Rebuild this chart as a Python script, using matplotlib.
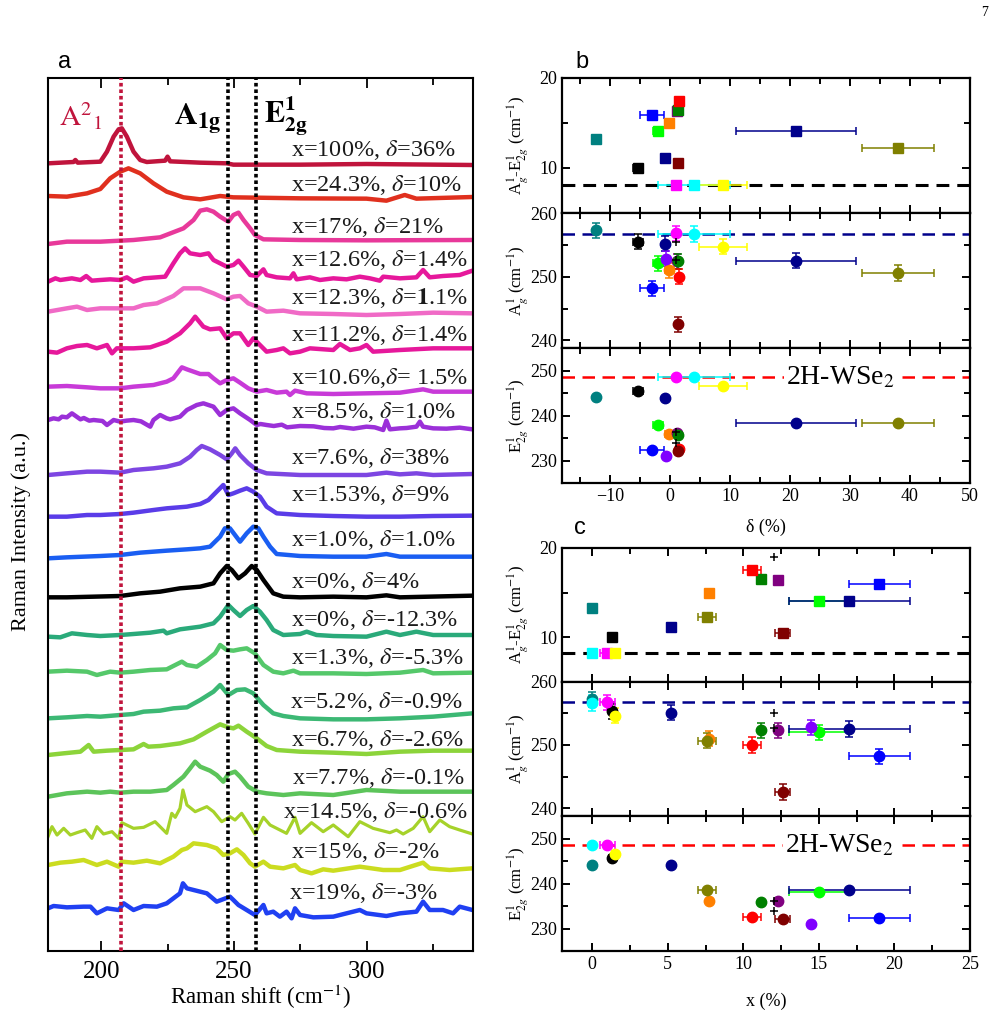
import matplotlib
matplotlib.use("Agg")
import matplotlib.pyplot as plt
from matplotlib.ticker import MultipleLocator

plt.rcParams['font.family'] = ['Liberation Serif', 'DejaVu Serif']
plt.rcParams['mathtext.fontset'] = 'stix'

# ---------------- Panel a : Raman spectra ----------------
spec_labels = [
    r"x=100%, $\delta$=36%", r"x=24.3%, $\delta$=10%", r"x=17%, $\delta$=21%",
    r"x=12.6%, $\delta$=1.4%", r"x=12.3%, $\delta$=$\mathbf{1}$.1%", r"x=11.2%, $\delta$=1.4%",
    r"x=10.6%,$\delta$= 1.5%", r"x=8.5%, $\delta$=1.0%", r"x=7.6%, $\delta$=38%",
    r"x=1.53%, $\delta$=9%", r"x=1.0%, $\delta$=1.0%", r"x=0%, $\delta$=4%",
    r"x=0%, $\delta$=-12.3%", r"x=1.3%, $\delta$=-5.3%", r"x=5.2%, $\delta$=-0.9%",
    r"x=6.7%, $\delta$=-2.6%", r"x=7.7%, $\delta$=-0.1%", r"x=14.5%, $\delta$=-0.6%",
    r"x=15%, $\delta$=-2%", r"x=19%, $\delta$=-3%",
]
spec_colors = ['#c0143c', '#e0301e', '#e8399a', '#e6189b', '#f06ac6', '#e6189b',
               '#c83ad8', '#9b30d8', '#7d46e2', '#5a3ce8', '#1a5ef2', '#000000',
               '#2aaa7a', '#55c86a', '#3cb874', '#8cd43a', '#5cc45a', '#a6d22a',
               '#cbdc20', '#2040f2']
spec_offsets = [2358, 2262, 2133, 2018, 1913, 1808, 1678, 1565, 1431, 1306,
                1183, 1066, 948, 835, 713, 601, 478, 353, 248, 123]
label_y = [2403, 2298, 2173, 2073, 1958, 1848, 1718, 1618, 1478, 1368,
           1233, 1108, 993, 878, 748, 633, 518, 416, 298, 173]
label_x = [271.4, 271.4, 271.4, 271.4, 271.4, 271.4, 271.4, 271.4, 271.4, 271.4,
           271.4, 271.4, 271.4, 271.4, 271.0, 271.4, 271.8, 268.3, 271.4, 270.7]

spec_shifts = [
    [180, 189.6, 190.3, 191.2, 199.7, 202.2, 204.7, 206.6, 207.8, 209.7, 212.2, 214.7, 217.2, 224.1, 225.0, 226.0, 237.3, 247.3, 249.8, 274.9, 299.9, 339.8],
    [180, 187.1, 194.7, 199.7, 203.4, 207.2, 210.3, 214.7, 219.7, 224.7, 231.0, 237.3, 244.8, 249.8, 274.9, 299.9, 307.4, 314.3, 318.7, 339.8],
    [180, 187.1, 199.7, 212.2, 222.2, 231.0, 234.8, 237.3, 239.8, 242.3, 244.8, 247.9, 249.8, 251.7, 253.6, 256.1, 257.9, 261.1, 274.9, 299.9, 339.8],
    [180, 182.8, 184.6, 189.0, 192.2, 194.4, 196.5, 199.7, 203.4, 207.2, 209.7, 212.2, 216.0, 221.0, 224.1, 227.2, 229.7, 231.6, 233.5, 237.3, 240.4, 242.3, 247.3, 249.8, 251.7, 253.6, 256.1, 258.6, 261.1, 262.3, 266.1, 271.1, 272.4, 273.6, 278.6, 282.4, 287.4, 292.4, 297.4, 301.2, 304.9, 306.2, 312.5, 318.7, 321.2, 323.7, 328.7, 335.0, 339.8],
    [180, 187.1, 190.9, 194.7, 199.7, 207.2, 212.2, 216.0, 221.0, 227.2, 231.0, 237.3, 242.3, 247.3, 249.8, 252.3, 255.4, 258.6, 262.3, 268.6, 274.9, 287.4, 299.9, 312.5, 325.0, 339.8],
    [180, 183.4, 187.1, 190.9, 194.7, 198.4, 202.2, 204.1, 205.9, 212.2, 218.5, 224.7, 229.7, 233.5, 235.4, 238.5, 241.0, 244.8, 247.3, 249.8, 252.3, 255.4, 257.3, 259.8, 262.3, 266.1, 268.6, 271.1, 274.9, 278.6, 287.4, 289.9, 293.7, 297.4, 299.9, 302.4, 312.5, 325.0, 339.8],
    [180, 187.1, 194.7, 199.7, 207.2, 212.2, 219.7, 224.7, 227.2, 230.4, 232.3, 237.3, 240.4, 242.3, 244.8, 247.3, 249.8, 252.3, 255.4, 258.6, 262.3, 266.1, 269.8, 271.1, 273.0, 277.4, 287.4, 299.9, 312.5, 321.2, 325.0, 339.8],
    [180, 182.1, 184.0, 185.3, 187.1, 189.0, 192.2, 193.5, 195.5, 197.2, 200.5, 202.2, 204.7, 207.2, 209.5, 212.2, 215.0, 218.5, 219.7, 222.2, 224.7, 226.0, 229.7, 232.3, 236.0, 238.5, 242.3, 244.8, 247.3, 249.8, 252.3, 256.1, 258.6, 260.0, 262.3, 265.0, 268.0, 270.0, 274.9, 280.0, 284.0, 287.4, 290.0, 295.0, 299.9, 303.0, 306.2, 307.4, 308.7, 312.5, 315.0, 318.7, 320.0, 321.2, 325.0, 330.0, 335.0, 339.8],
    [180, 187.1, 194.7, 199.7, 207.2, 212.2, 219.7, 224.7, 229.7, 233.5, 236.0, 237.9, 241.0, 244.8, 247.3, 249.2, 250.5, 252.3, 255.4, 258.6, 262.3, 274.9, 287.4, 299.9, 307.4, 312.5, 318.7, 325.0, 339.8],
    [180, 187.1, 194.7, 199.7, 207.2, 212.2, 219.7, 224.7, 232.3, 237.3, 240.4, 243.5, 246.0, 247.9, 249.8, 252.3, 254.8, 257.3, 259.8, 262.3, 266.1, 274.9, 287.4, 299.9, 312.5, 325.0, 339.8],
    [180, 187.1, 199.7, 207.2, 214.7, 224.7, 232.3, 237.3, 241.0, 244.8, 246.6, 248.5, 250.4, 252.3, 254.8, 257.3, 259.2, 261.1, 263.6, 266.1, 274.9, 287.4, 299.9, 307.4, 312.5, 339.8],
    [180, 187.1, 197.2, 207.2, 214.7, 222.2, 229.7, 237.3, 242.3, 244.8, 247.3, 249.2, 251.7, 254.2, 256.7, 258.6, 261.1, 264.8, 268.6, 274.9, 287.4, 299.9, 307.4, 312.5, 339.8],
    [180, 184.6, 189.0, 194.7, 199.7, 207.2, 212.2, 218.5, 223.5, 224.7, 229.7, 237.3, 242.3, 244.8, 247.9, 249.8, 252.3, 254.8, 257.3, 259.8, 262.3, 264.8, 268.6, 274.9, 277.4, 281.1, 287.4, 299.9, 307.4, 312.5, 318.7, 325.0, 339.8],
    [180, 187.1, 194.7, 198.4, 203.4, 207.2, 212.2, 218.5, 224.7, 230.4, 232.3, 236.0, 239.8, 242.9, 244.8, 247.3, 249.8, 252.3, 254.8, 257.9, 261.1, 264.8, 268.6, 272.4, 274.9, 287.4, 299.9, 312.5, 321.2, 325.0, 339.8],
    [180, 187.1, 194.7, 199.7, 207.2, 212.2, 216.0, 222.2, 227.2, 232.3, 237.3, 242.3, 244.8, 247.9, 251.1, 254.2, 257.3, 261.1, 264.8, 268.6, 274.9, 287.4, 299.9, 312.5, 325.0, 339.8],
    [180, 185.9, 192.2, 195.3, 197.2, 202.2, 207.2, 212.2, 216.0, 217.8, 222.2, 229.7, 234.8, 239.8, 244.8, 247.9, 249.8, 251.7, 254.8, 258.6, 262.3, 266.1, 274.9, 287.4, 299.9, 312.5, 325.0, 339.8],
    [180, 187.1, 194.7, 199.7, 203.4, 207.2, 212.2, 218.5, 224.7, 227.2, 231.0, 233.5, 235.4, 237.3, 241.0, 243.5, 246.0, 247.9, 250.4, 252.3, 255.4, 258.6, 262.3, 268.6, 274.9, 287.4, 299.9, 312.5, 325.0, 339.8],
    [180, 181.5, 183.4, 185.9, 188.4, 190.9, 194.0, 196.5, 198.4, 200.9, 204.1, 206.6, 207.8, 212.2, 216.0, 220.3, 224.7, 226.6, 227.9, 229.7, 230.8, 232.3, 235.4, 239.8, 242.3, 245.4, 248.5, 250.4, 252.9, 255.4, 257.9, 261.1, 263.6, 269.8, 273.0, 274.9, 279.2, 283.6, 287.4, 293.0, 297.4, 302.4, 308.7, 311.2, 313.7, 317.5, 321.2, 323.7, 327.5, 331.2, 335.0, 339.8],
    [180, 184.6, 189.0, 193.4, 198.4, 202.2, 206.6, 207.8, 212.2, 217.2, 222.2, 227.2, 230.4, 232.3, 234.8, 239.8, 243.5, 246.0, 248.5, 251.1, 253.6, 256.1, 257.9, 261.1, 263.6, 268.6, 273.0, 274.9, 279.2, 283.6, 287.4, 297.4, 306.2, 312.5, 321.2, 323.7, 331.2, 339.8],
    [180, 182.1, 187.1, 193.4, 196.0, 198.4, 202.2, 206.6, 208.5, 212.2, 216.0, 221.0, 224.7, 227.2, 229.7, 230.8, 232.3, 234.8, 239.8, 243.5, 248.5, 249.8, 251.7, 254.8, 257.9, 261.1, 262.3, 264.8, 267.3, 269.8, 271.7, 273.0, 274.9, 279.9, 287.4, 297.4, 299.9, 307.4, 312.5, 318.7, 321.2, 323.7, 328.7, 332.5, 335.0, 339.8],
]
spec_ints = [
    [5, 9, 15, 7, 10, 40, 85, 107, 110, 85, 40, 15, 9, 13, 25, 11, 7, 5, 1, 1, 3, 0],
    [3, 1, 11, 24, 56, 76, 86, 71, 41, 16, -1, -7, 3, -1, -4, -5, -11, 6, -5, 0],
    [-12, -5, -5, 0, 8, 35, 60, 88, 92, 85, 70, 55, 75, 82, 60, 35, 15, 2, 0, -1, 0],
    [-10, 0, -5, 0, -5, 7, -7, -5, -3, -5, 3, -10, 0, 3, 5, 45, 75, 90, 75, 70, 75, 55, 35, 40, 53, 35, 10, 7, 27, 10, 3, 0, 15, -3, 3, -5, 0, -3, 5, 0, -7, 5, 0, 3, 25, 3, 7, 10, 23],
    [5, 15, 20, 10, 15, 15, 15, 25, 30, 52, 75, 75, 60, 42, 50, 52, 30, 20, 5, 8, 0, -2, -5, -2, 2, 0],
    [-10, -13, 0, 7, 10, 0, 10, -15, 0, 0, 3, 20, 45, 75, 95, 65, 57, 60, 30, 45, 45, 10, 30, 10, -10, -5, 0, -15, -10, 0, -5, 13, -5, 0, 10, -10, -5, 0, 0],
    [15, 17, 13, 10, 10, 15, 20, 30, 40, 73, 67, 53, 53, 40, 25, 35, 40, 27, 10, 0, 5, -3, 0, -10, 3, -5, -7, -5, -3, 7, 0, 0],
    [28, 33, 30, 38, 36, 48, 30, 34, 26, 28, 25, 13, 28, 23, 26, 28, 24, 8, 28, 43, 33, 30, 38, 58, 73, 78, 68, 43, 58, 63, 48, 28, 13, 16, 13, 10, 14, 6, 10, 9, 4, 3, 7, 2, 8, 6, -2, 26, 0, 3, 4, 8, 23, 8, 3, 2, 5, 0],
    [-3, 2, 7, 7, 4, 12, 17, 22, 32, 52, 72, 84, 74, 57, 44, 62, 77, 57, 32, 12, 2, -3, -3, -3, 4, -1, 2, -3, 0],
    [-3, -3, 2, 2, 5, 9, 17, 22, 27, 35, 47, 72, 92, 62, 67, 75, 82, 72, 57, 27, 7, 2, -1, -3, -3, -1, 0],
    [-5, -2, 2, 5, 12, 18, 22, 25, 30, 60, 85, 85, 65, 45, 70, 90, 85, 60, 30, 8, 2, 0, 0, 8, 0, 0],
    [-5, -5, -3, -1, 7, 12, 22, 27, 37, 67, 89, 77, 52, 67, 89, 77, 47, 7, -3, -5, -3, -5, 1, -5, 0],
    [-5, -7, 5, 0, -3, 0, 3, 7, 13, 5, 17, 25, 35, 55, 90, 75, 57, 75, 87, 70, 45, 15, 0, 3, 10, 0, -3, -5, 10, 0, 10, 0, 0],
    [3, 6, 3, -7, 3, 0, 3, 8, 10, 33, 23, 18, 38, 58, 83, 68, 66, 70, 73, 58, 23, 3, -2, 6, -2, -2, -4, 0, 8, -2, 0],
    [-15, -12, -8, -10, -5, -2, 5, 8, 15, 18, 40, 65, 85, 55, 70, 72, 60, 25, 0, -8, -15, -18, -18, -15, -10, 0],
    [-13, -8, -3, 17, -3, 0, 2, 4, 20, 12, 14, 22, 34, 57, 79, 70, 67, 75, 57, 37, 14, 2, -3, -6, -10, -3, 0, 0],
    [-15, -5, 0, -3, 0, -3, 0, 0, 5, 20, 45, 70, 90, 75, 63, 50, 30, 53, 60, 45, 15, 0, -5, -10, -5, -10, 5, 0, 0, 0],
    [-10, 20, -5, 15, -5, 2, 10, -15, 20, -2, 5, -15, 32, 15, 18, 35, 0, 60, 48, 75, 130, 85, 65, 80, 65, 35, 50, 40, 60, 30, -2, 48, 25, 0, 48, 0, 32, 5, 25, -10, 35, 15, 2, 10, -2, 15, 50, 5, 40, 20, 10, -2],
    [10, 17, 20, 25, 10, 20, 5, 20, 17, 23, 15, 35, 55, 60, 75, 70, 60, 40, 45, 57, 40, 15, 5, 20, 5, 0, 10, -5, -15, -3, -7, 5, -5, -5, 17, 0, -5, 0],
    [5, 12, 8, 10, 10, -10, 5, 0, 20, 0, 12, 10, 20, 35, 50, 80, 65, 60, 50, 25, 40, 30, 15, 0, -15, 15, -10, -5, -20, -5, -25, 5, -15, -22, -20, 0, -10, -18, -10, -5, 25, 0, 0, -10, 10, 0],
]
a_xticks = [200, 250, 300]
a21_pos = 207.3
a1g_pos = 247.8
e2g_pos = 258.2

# ---------------- Panels b and c : peak positions ----------------
pt_colors = ['#008080', '#000000', '#0000ff', '#00ff00', '#00008b', '#ff8000',
             '#8000ff', '#ff00ff', '#800080', '#008000', '#ff0000', '#800000',
             '#00ffff', '#ffff00', '#00008b', '#808000']
delta = [-12.3, -5.3, -3.0, -2.0, -0.9, -0.1, -0.6, 1.0, 1.1, 1.4, 1.5, 1.4, 4.0, 8.9, 21.0, 38.0]
delta_err = [0, 0.8, 2.0, 0.8, 0, 0.8, 0, 0, 0, 0, 0, 0, 6.0, 4.0, 10.0, 6.0]
xcomp = [0.0, 1.3, 19.0, 15.0, 5.2, 7.7, 14.5, 1.0, 12.3, 11.2, 10.6, 12.6, 0.0, 1.5, 17.0, 7.6]
xcomp_err = [0, 0.2, 2.0, 2.0, 0, 0, 0, 0.5, 0, 0, 0.6, 0.5, 0, 0.2, 4.0, 0.6]

b_diff = [13.2, 10.0, 15.9, 14.1, 11.15, 15.0, 21.8, 8.15, 16.3, 16.5, 17.4, 10.5, 8.15, 8.15, 14.15, 12.2]
b_A = [257.3, 255.5, 248.2, 252.1, 255.2, 251.0, 252.8, 256.8, 252.4, 252.4, 250.0, 242.5, 256.7, 254.7, 252.5, 250.6]
b_E = [244.1, 245.4, 232.4, 238.0, 244.0, 235.9, 231.1, 248.6, 236.1, 235.7, 232.5, 232.1, 248.6, 246.5, 238.4, 238.4]

c_diff = [13.25, 10.0, 15.9, 14.1, 11.15, 15.0, 21.8, 8.15, 16.4, 16.5, 17.5, 10.5, 8.15, 8.15, 14.1, 12.2]
c_A = [257.2, 255.3, 248.2, 252.0, 255.1, 251.0, 252.8, 256.7, 252.3, 252.3, 250.0, 242.6, 256.6, 254.6, 252.5, 250.7]
c_E = [244.1, 245.6, 232.4, 238.2, 244.2, 236.1, 231.1, 248.6, 236.1, 235.9, 232.6, 232.2, 248.6, 246.6, 238.5, 238.6]

A_err = 1.2
ref_diff = 8.15
ref_A = 256.7
ref_E = 248.6

plus_b_delta = [1.0, 1.0]
plus_b_A = [255.5, 252.6]
plus_b_E = [236.3, 233.8]
plus_c_x = [12.0, 12.0]
plus_c_diff = [19.0, None]
plus_c_A = [255.0, 252.6]
plus_c_E = [236.1, 233.8]

# ---------------- Figure ----------------
W, H = 1004, 1015
fig = plt.figure(figsize=(W / 100, H / 100), dpi=100)


def px_axes(left, top, right, bottom):
    return fig.add_axes([left / W, 1 - bottom / H, (right - left) / W, (bottom - top) / H])


axa = px_axes(48, 78, 473, 951)
for i in range(len(spec_offsets)):
    ys = [spec_offsets[i] + v for v in spec_ints[i]]
    lw = 2.3 if i == 17 else 3.2
    axa.plot(spec_shifts[i], ys, color=spec_colors[i], lw=lw, solid_joinstyle='round', zorder=2)
    axa.text(label_x[i], label_y[i], spec_labels[i], fontsize=17.5, va='center', ha='left',
             color='#1a1a1a', zorder=4, clip_on=True)

axa.axvline(a21_pos, color='#c0143c', lw=2.6, ls=(0, (1, 0.8)), zorder=3)
axa.axvline(a1g_pos, color='black', lw=2.6, ls=(0, (1, 0.8)), zorder=3)
axa.axvline(e2g_pos, color='black', lw=2.6, ls=(0, (1, 0.8)), zorder=3)

axa.text(184, 2505, r"$\mathrm{A}^{2}{}_{1}$", color='#c0143c', fontsize=21, va='center', ha='left')
axa.text(227.5, 2495, r"$\mathbf{A_{1g}}$", color='black', fontsize=23, va='center', ha='left')
axa.text(261.5, 2505, r"$\mathbf{E^{1}_{2g}}$", color='black', fontsize=22, va='center', ha='left')

axa.set_xlim(180, 340)
axa.set_ylim(0, 2619)
axa.set_yticks([])
axa.set_xticks(a_xticks)
axa.xaxis.set_minor_locator(MultipleLocator(25))
axa.tick_params(axis='x', which='both', direction='in', top=True, bottom=True,
                labelsize=18, width=1.3, pad=7)
axa.tick_params(axis='x', which='major', length=7)
axa.tick_params(axis='x', which='minor', length=5)
for s in axa.spines.values():
    s.set_linewidth(1.5)
axa.set_xlabel(r"Raman shift (cm$^{-1}$)", fontsize=16.5, labelpad=0)
axa.set_ylabel("Raman Intensity (a.u.)", fontsize=16)
axa.yaxis.set_label_coords(-0.04, 0.48)

fig.text(58 / W, 1 - 62 / H, "a", fontsize=17, family='Liberation Sans', va='center', ha='left')
fig.text(575 / W, 1 - 62 / H, "b", fontsize=17, family='Liberation Sans', va='center', ha='left')
fig.text(574 / W, 1 - 528 / H, "c", fontsize=17, family='Liberation Sans', va='center', ha='left')
fig.text(985 / W, 1 - 13 / H, "7", fontsize=10, va='center', ha='center')

# panels b, c axes
b1 = px_axes(562, 78, 970, 213)
b2 = px_axes(562, 213, 970, 348)
b3 = px_axes(562, 348, 970, 483)
c1 = px_axes(562, 548, 970, 681.5)
c2 = px_axes(562, 681.5, 970, 816)
c3 = px_axes(562, 816, 970, 951)

diff_label = r"A$^1_g$-E$^1_{2g}$ (cm$^{-1}$)"
A_label = r"A$^1_g$ (cm$^{-1}$)"
E_label = r"E$^1_{2g}$ (cm$^{-1}$)"


def style(ax, xlim, xmaj, xmin, ylim, ymaj, ymin, showx):
    ax.set_xlim(*xlim)
    ax.set_ylim(*ylim)
    ax.xaxis.set_major_locator(MultipleLocator(xmaj))
    ax.xaxis.set_minor_locator(MultipleLocator(xmin))
    ax.yaxis.set_major_locator(MultipleLocator(ymaj))
    ax.yaxis.set_minor_locator(MultipleLocator(ymin))
    ax.tick_params(which='both', direction='in', top=True, right=True, width=1.4,
                   labelsize=13, labelbottom=showx)
    ax.tick_params(which='major', length=6)
    ax.tick_params(which='minor', length=4)
    for s in ax.spines.values():
        s.set_linewidth(1.6)
    ax.yaxis.set_label_coords(-0.075, 0.5)


def scatter_panel(ax, xs, xerrs, ys, marker, ms, yerr):
    for i in range(len(xs)):
        xe = xerrs[i] if xerrs[i] > 0 else None
        ax.errorbar(xs[i], ys[i], xerr=xe, yerr=yerr, fmt=marker, color=pt_colors[i],
                    mec=pt_colors[i], ms=ms, capsize=3, elinewidth=1.1, capthick=1.1, zorder=3)


def plus_marks(ax, xs, ys):
    for xv, yv in zip(xs, ys):
        if yv is not None:
            ax.plot(xv, yv, marker='+', color='black', ms=6, mew=1.1, zorder=4)


# --- b
scatter_panel(b1, delta, delta_err, b_diff, 's', 6.5, None)
b1.axhline(ref_diff, color='black', lw=2.2, ls=(0, (4.2, 2.6)), zorder=2)
style(b1, (-18, 50), 10, 5, (5, 20), 10, 5, False)
b1.set_ylabel(diff_label, fontsize=12)

scatter_panel(b2, delta, delta_err, b_A, 'o', 7.5, A_err)
plus_marks(b2, plus_b_delta, plus_b_A)
b2.axhline(ref_A, color='#00008b', lw=1.8, ls=(0, (5, 3)), zorder=2)
style(b2, (-18, 50), 10, 5, (238.8, 260), 10, 5, False)
b2.set_ylabel(A_label, fontsize=12)

scatter_panel(b3, delta, delta_err, b_E, 'o', 7.5, None)
plus_marks(b3, plus_b_delta, plus_b_E)
b3.axhline(ref_E, color='red', lw=1.8, ls=(0, (5, 3)), zorder=2)
b3.text(19.3, ref_E - 0.2, r"2H-WSe$_2$", fontsize=20, va='center', ha='left', zorder=5,
        bbox=dict(facecolor='white', edgecolor='none', pad=1))
style(b3, (-18, 50), 10, 5, (225, 255), 10, 5, True)
b3.set_ylabel(E_label, fontsize=12)
b3.set_xlabel("δ (%)", fontsize=13, labelpad=10)

# --- c
scatter_panel(c1, xcomp, xcomp_err, c_diff, 's', 6.5, None)
plus_marks(c1, plus_c_x, plus_c_diff)
c1.axhline(ref_diff, color='black', lw=2.2, ls=(0, (4.2, 2.6)), zorder=2)
style(c1, (-2, 25), 5, 2.5, (5, 20), 10, 5, False)
c1.set_ylabel(diff_label, fontsize=12)

scatter_panel(c2, xcomp, xcomp_err, c_A, 'o', 7.5, A_err)
plus_marks(c2, plus_c_x, plus_c_A)
c2.axhline(ref_A, color='#00008b', lw=1.8, ls=(0, (5, 3)), zorder=2)
style(c2, (-2, 25), 5, 2.5, (238.8, 260), 10, 5, False)
c2.set_ylabel(A_label, fontsize=12)

scatter_panel(c3, xcomp, xcomp_err, c_E, 'o', 7.5, None)
plus_marks(c3, plus_c_x, plus_c_E)
c3.axhline(ref_E, color='red', lw=1.8, ls=(0, (5, 3)), zorder=2)
c3.text(12.75, ref_E - 0.2, r"2H-WSe$_2$", fontsize=20, va='center', ha='left', zorder=5,
        bbox=dict(facecolor='white', edgecolor='none', pad=1))
style(c3, (-2, 25), 5, 2.5, (225, 255), 10, 5, True)
c3.set_ylabel(E_label, fontsize=12)
c3.set_xlabel("x (%)", fontsize=13, labelpad=14)

fig.savefig("out.png", dpi=100)
